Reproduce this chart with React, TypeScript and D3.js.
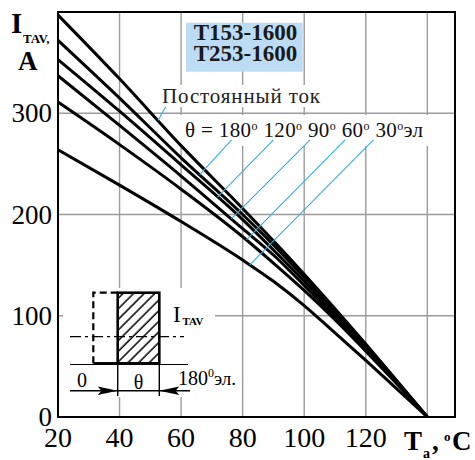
import React, { useRef, useEffect } from 'react';
import * as d3 from 'd3';

// ambient temperature, °C
const temps = [20, 40, 60, 80, 90, 100, 110, 120, 130, 140];
// I_TAV, A for each conduction angle
const dcValues = [397, 334, 268, 206, 174, 141, 107, 72, 36, 0];
const deg180Values = [372, 315, 256, 200, 170, 138, 105, 71, 36, 0];
const deg120Values = [353, 302, 249, 195, 165, 134, 102, 69, 35, 0];
const deg90Values = [337, 288, 238, 186, 160, 130, 99, 67, 34, 0];
const deg60Values = [311, 269, 225, 178, 152, 125, 96, 65, 33, 0];
const deg30Values = [264, 229, 193, 155, 134, 110, 83, 56, 28, 0];

const xTickLabels = [20, 40, 60, 80, 100, 120];
const xGridValues = [40, 60, 80, 100, 120, 140];
const yTickLabels = [0, 100, 200, 300];
const yGridValues = [100, 200, 300];

const angleLabels = ['180', '120', '90', '60', '30'];
const titleLines = ['Т153-1600', 'Т253-1600'];

// leader lines: label end (t, I) -> touch point on the curve (t)
const leaderStartT = [55, 76.4, 90, 101.9, 113.3, 122.5];
const leaderStartI = [306.5, 273.6, 273.6, 273.6, 273.6, 273.6];
const leaderEndT = [52.5, 66, 71.8, 76.3, 81.2, 82.3];

const BLUE = '#2fb0e3';
const FONT = '"Liberation Serif", "Times New Roman", serif';

const Chart = () => {
    const ref = useRef<HTMLDivElement>(null);

    useEffect(() => {
        const root = d3.select(ref.current);
        root.select('svg').remove();

        const width = 475, height = 460;
        const svg = root.append('svg')
            .attr('width', width)
            .attr('height', height)
            .attr('font-family', FONT);

        const x = d3.scaleLinear().domain([20, 149]).range([58, 455]);
        const y = d3.scaleLinear().domain([0, 400]).range([417, 12]);

        svg.append('rect').attr('width', width).attr('height', height).attr('fill', '#fff');

        // hatch pattern for the pulse
        const defs = svg.append('defs');
        const pat = defs.append('pattern')
            .attr('id', 'hatch')
            .attr('width', 7.5).attr('height', 7.5)
            .attr('patternUnits', 'userSpaceOnUse')
            .attr('patternTransform', 'rotate(45)');
        pat.append('line')
            .attr('x1', 2).attr('y1', 0).attr('x2', 2).attr('y2', 7.5)
            .attr('stroke', '#000').attr('stroke-width', 1.5);

        // grid
        const grid = svg.append('g').attr('stroke', '#9c9c9c').attr('stroke-width', 1.4);
        grid.selectAll('line.v').data(xGridValues).join('line')
            .attr('class', 'v')
            .attr('x1', d => x(d)).attr('x2', d => x(d))
            .attr('y1', y(0)).attr('y2', y(400));
        grid.selectAll('line.h').data(yGridValues).join('line')
            .attr('class', 'h')
            .attr('x1', x(20)).attr('x2', x(149))
            .attr('y1', d => y(d)).attr('y2', d => y(d));

        // white patches behind labels and the inset
        svg.append('rect').attr('x', 158).attr('y', 85).attr('width', 168).attr('height', 22).attr('fill', '#fff');
        svg.append('rect').attr('x', 180).attr('y', 115).attr('width', 250).attr('height', 31).attr('fill', '#fff');
        svg.append('rect').attr('x', 63).attr('y', 288).attr('width', 152).attr('height', 109).attr('fill', '#fff');

        // title box
        svg.append('rect').attr('x', 186).attr('y', 22.7).attr('width', 116.7).attr('height', 49).attr('fill', '#bcdcf4');
        svg.selectAll('text.title').data(titleLines).join('text')
            .attr('class', 'title')
            .attr('x', 245.5)
            .attr('y', (d, i) => 39.5 + i * 21.3)
            .attr('text-anchor', 'middle')
            .attr('font-size', 23)
            .attr('font-weight', 'bold')
            .attr('fill', '#1a1a1a')
            .text(d => d);

        // curves
        const allSeries = [dcValues, deg180Values, deg120Values, deg90Values, deg60Values, deg30Values];
        const line = d3.line<number>()
            .x((d, i) => x(temps[i]))
            .y(d => y(d))
            .curve(d3.curveMonotoneX);
        svg.append('g').selectAll('path').data(allSeries).join('path')
            .attr('d', d => line(d))
            .attr('fill', 'none')
            .attr('stroke', '#000')
            .attr('stroke-width', 3);

        // leaders
        svg.append('g').selectAll('line').data(allSeries).join('line')
            .attr('x1', (d, i) => x(leaderStartT[i]))
            .attr('y1', (d, i) => y(leaderStartI[i]))
            .attr('x2', (d, i) => x(leaderEndT[i]))
            .attr('y2', (d, i) => y(d3.scaleLinear().domain(temps).range(d)(leaderEndT[i])))
            .attr('stroke', BLUE)
            .attr('stroke-width', 1.1);

        // labels
        svg.append('text')
            .attr('x', 162).attr('y', 102.5)
            .attr('font-size', 21)
            .attr('textLength', 158)
            .attr('lengthAdjust', 'spacing')
            .attr('fill', '#222')
            .text('Постоянный ток');

        const th = svg.append('text')
            .attr('x', 185).attr('y', 136.5)
            .attr('font-size', 21)
            .attr('textLength', 238)
            .attr('lengthAdjust', 'spacing')
            .attr('fill', '#111');
        th.append('tspan').text('θ = ');
        angleLabels.forEach((a, i) => {
            th.append('tspan').attr('dy', i === 0 ? 0 : 7).text((i === 0 ? '' : '\u00a0') + a);
            th.append('tspan').attr('dy', -7).attr('font-size', 12).text('o');
        });
        th.append('tspan').attr('dy', 7).text('эл');

        // frame
        svg.append('rect')
            .attr('x', x(20)).attr('y', y(400))
            .attr('width', x(149) - x(20)).attr('height', y(0) - y(400))
            .attr('fill', 'none').attr('stroke', '#000').attr('stroke-width', 2);

        // tick labels
        svg.append('g').selectAll('text').data(yTickLabels).join('text')
            .attr('x', 52)
            .attr('y', d => y(d) + 9)
            .attr('text-anchor', 'end')
            .attr('font-size', 27)
            .text(d => d);
        svg.append('g').selectAll('text').data(xTickLabels).join('text')
            .attr('x', d => x(d))
            .attr('y', 447)
            .attr('text-anchor', 'middle')
            .attr('font-size', 28)
            .text(d => d);

        // axis titles
        const bold = (t: string, px: number, py: number, fs: number) =>
            svg.append('text').attr('x', px).attr('y', py)
                .attr('font-size', fs).attr('font-weight', 'bold').text(t);
        bold('I', 11, 33, 29);
        bold('TAV,', 23, 43, 13);
        bold('A', 18, 70, 27);
        bold('T', 404, 449.5, 27);
        bold('a', 423, 458, 14);
        bold(',', 432, 449.5, 27);
        bold('o', 444, 441, 13);
        bold('C', 452, 449.5, 27);

        // inset: rectangular current pulse
        const g = svg.append('g');
        g.append('rect').attr('x', 117.7).attr('y', 292.7).attr('width', 41.6).attr('height', 70.6)
            .attr('fill', 'url(#hatch)');
        g.append('path').attr('d', 'M93.3,363.3 V292.7 H117.7')
            .attr('fill', 'none').attr('stroke', '#000').attr('stroke-width', 2.2)
            .attr('stroke-dasharray', '7,4');
        g.append('line').attr('x1', 93.3).attr('x2', 117.7).attr('y1', 363.3).attr('y2', 363.3)
            .attr('stroke', '#000').attr('stroke-width', 2.5);
        g.append('rect').attr('x', 117.7).attr('y', 292.7).attr('width', 41.6).attr('height', 70.6)
            .attr('fill', 'none').attr('stroke', '#000').attr('stroke-width', 2.6);
        g.append('line').attr('x1', 70).attr('x2', 188).attr('y1', 364.5).attr('y2', 364.5)
            .attr('stroke', '#000').attr('stroke-width', 1.2);
        g.append('line').attr('x1', 70).attr('x2', 184).attr('y1', 336.7).attr('y2', 336.7)
            .attr('stroke', '#000').attr('stroke-width', 1.2).attr('stroke-dasharray', '11,4,3,4');
        [117.7, 159.3].forEach(px => {
            g.append('line').attr('x1', px).attr('x2', px).attr('y1', 364).attr('y2', 396)
                .attr('stroke', '#000').attr('stroke-width', 1.4);
        });
        g.append('line').attr('x1', 70).attr('x2', 190).attr('y1', 390.7).attr('y2', 390.7)
            .attr('stroke', '#000').attr('stroke-width', 1.4);
        g.append('path').attr('d', 'M117.7,390.7 L97.7,386.5 L101.5,390.7 L97.7,394.9 Z').attr('fill', '#000');
        g.append('path').attr('d', 'M159.3,390.7 L179.3,386.5 L175.5,390.7 L179.3,394.9 Z').attr('fill', '#000');

        g.append('text').attr('x', 173).attr('y', 322).attr('font-size', 23).text('I');
        g.append('text').attr('x', 182.5).attr('y', 325).attr('font-size', 11).attr('font-weight', 'bold').text('TAV');
        g.append('text').attr('x', 82).attr('y', 387).attr('font-size', 20).attr('text-anchor', 'middle').text('0');
        g.append('text').attr('x', 138.5).attr('y', 388.5).attr('font-size', 20).attr('text-anchor', 'middle').text('θ');
        g.append('text').attr('x', 178).attr('y', 385).attr('font-size', 20).text('180');
        g.append('text').attr('x', 208).attr('y', 377).attr('font-size', 12).text('0');
        g.append('text').attr('x', 214).attr('y', 385).attr('font-size', 19).text('эл.');
    }, []);

    return <div ref={ref} style={{ position: 'absolute', left: 0, top: 0 }} />;
};

export default function App() {
    return <Chart />;
}
